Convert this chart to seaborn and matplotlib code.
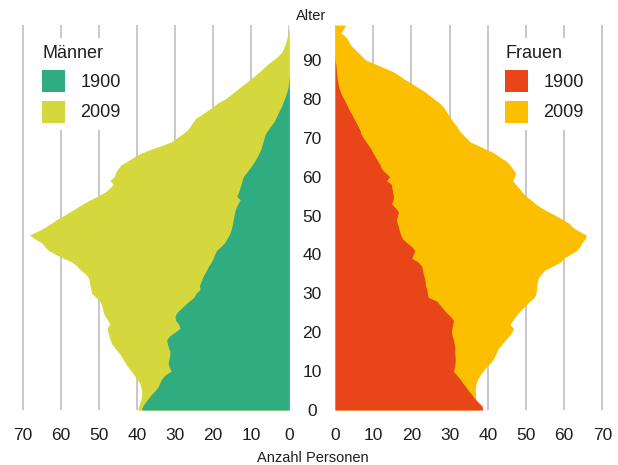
# %%
import numpy as np
import matplotlib.pyplot as plt
import seaborn as sns
from matplotlib.patches import Patch

# %% data: Anzahl Personen je Altersjahr (0..99)
alter = list(range(100))

maenner_1900 = [38.8, 38.5, 37.8, 37.0, 36.2, 35.2, 34.4, 34.0, 33.5, 32.6,
                31.0, 31.5, 31.8, 31.6, 31.4, 31.3, 31.7, 32.0, 32.2, 31.5,
                30.0, 28.7, 29.0, 29.8, 30.0, 29.6, 28.5, 27.4, 26.3, 25.0,
                24.5, 23.4, 23.6, 23.2, 22.8, 22.3, 21.7, 21.2, 20.5, 20.0,
                19.6, 19.1, 18.0, 17.0, 16.4, 15.8, 15.4, 15.1, 14.9, 14.7,
                14.5, 14.3, 14.0, 13.5, 12.9, 13.8, 13.3, 13.0, 12.7, 12.4,
                12.1, 11.3, 10.5, 9.8, 9.1, 8.5, 8.0, 7.5, 7.2, 6.9,
                6.6, 6.3, 5.6, 4.9, 4.1, 3.6, 3.1, 2.6, 2.1, 1.7,
                1.3, 0.9, 0.6, 0.3, 0.2, 0.1, 0.0, 0.0, 0.0, 0.0,
                0.0, 0.0, 0.0, 0.0, 0.0, 0.0, 0.0, 0.0, 0.0, 0.0]

maenner_2009 = [39.8, 39.5, 39.2, 38.9, 38.7, 38.8, 39.0, 39.3, 40.0, 40.8,
                41.5, 42.3, 43.0, 43.6, 44.2, 45.0, 45.8, 46.6, 47.0, 47.3,
                47.6, 47.9, 47.1, 47.6, 48.3, 48.8, 49.0, 49.3, 49.7, 50.8,
                51.9, 52.1, 52.3, 52.5, 52.7, 53.5, 54.8, 55.7, 57.0, 59.2,
                61.3, 63.2, 64.2, 65.0, 66.8, 68.2, 66.0, 64.1, 62.5, 61.0,
                59.2, 57.5, 55.8, 54.2, 52.3, 50.3, 48.4, 47.2, 46.2, 47.1,
                46.0, 45.6, 45.0, 44.2, 42.5, 40.8, 39.0, 36.5, 33.5, 30.9,
                29.5, 28.0, 26.8, 26.0, 25.3, 24.6, 23.0, 21.5, 20.0, 18.7,
                16.8, 15.5, 14.2, 12.9, 11.6, 10.3, 9.0, 7.8, 6.7, 5.6,
                4.2, 3.0, 2.0, 1.5, 1.1, 0.8, 0.5, 0.3, 0.1, 0.0]

frauen_1900 = [38.7, 38.5, 37.5, 36.5, 35.8, 34.9, 34.2, 33.4, 32.7, 31.8,
               31.0, 31.3, 31.4, 31.5, 31.4, 31.3, 31.4, 31.2, 31.0, 30.7,
               30.5, 30.6, 30.8, 31.0, 30.3, 29.2, 28.3, 27.5, 26.6, 24.4,
               24.2, 24.0, 23.7, 23.6, 23.4, 23.1, 22.9, 22.7, 21.8, 20.1,
               20.5, 20.9, 20.1, 18.8, 17.7, 17.2, 16.9, 16.6, 16.3, 16.1,
               16.4, 16.6, 15.8, 14.8, 15.2, 15.3, 15.1, 14.9, 14.8, 13.5,
               14.3, 13.2, 12.2, 11.8, 11.2, 10.6, 10.0, 9.5, 8.8, 8.1,
               7.4, 6.8, 6.5, 6.0, 5.5, 4.9, 4.4, 3.8, 3.3, 2.8,
               2.3, 1.7, 1.3, 1.0, 0.8, 0.6, 0.5, 0.4, 0.3, 0.2,
               0.0, 0.0, 0.0, 0.0, 0.0, 0.0, 0.0, 0.0, 0.0, 0.0]

frauen_2009 = [37.6, 37.4, 37.1, 36.8, 36.8, 36.7, 36.8, 37.0, 37.4, 38.0,
               38.7, 39.6, 40.6, 41.4, 41.9, 42.4, 42.8, 43.8, 44.6, 45.5,
               46.3, 46.7, 45.8, 46.5, 47.2, 48.0, 49.0, 50.0, 51.0, 52.2,
               52.6, 52.8, 52.8, 53.0, 53.3, 54.0, 55.0, 57.0, 59.0, 59.8,
               61.5, 63.2, 64.1, 64.6, 65.5, 65.8, 63.8, 62.2, 61.3, 59.6,
               57.8, 55.8, 54.0, 52.5, 51.3, 50.0, 49.0, 48.2, 47.3, 46.5,
               47.0, 47.3, 46.5, 45.8, 44.8, 43.2, 41.8, 39.7, 37.5, 35.3,
               34.3, 33.3, 32.4, 31.9, 31.0, 30.3, 29.6, 29.0, 28.3, 27.3,
               25.9, 24.6, 23.3, 21.6, 20.0, 18.3, 16.8, 15.2, 12.8, 10.5,
               8.0, 7.0, 6.0, 4.9, 4.0, 3.5, 2.8, 1.5, 2.2, 2.8]

x_ticks = [0, 10, 20, 30, 40, 50, 60, 70]
age_ticks = [0, 10, 20, 30, 40, 50, 60, 70, 80, 90]

farben = {"m1900": "#30ad80", "m2009": "#d4d83c",
          "f1900": "#e84618", "f2009": "#fbbf00"}

# %% style
sns.set_theme(style="white")
plt.rcParams["font.family"] = ["Liberation Sans", "DejaVu Sans"]
textfarbe = "#1e1e1e"

W, H = 618, 465
fig = plt.figure(figsize=(W / 100, H / 100), dpi=100)
axL = fig.add_axes([20.7 / W, 55 / H, (289.3 - 20.7) / W, 385 / H])
axR = fig.add_axes([335 / W, 55 / H, (604.3 - 335) / W, 385 / H])

# %% fills
axL.fill_betweenx(alter, 0, maenner_2009, color=farben["m2009"], lw=0, zorder=2)
axL.fill_betweenx(alter, 0, maenner_1900, color=farben["m1900"], lw=0, zorder=3)
axR.fill_betweenx(alter, 0, frauen_2009, color=farben["f2009"], lw=0, zorder=2)
axR.fill_betweenx(alter, 0, frauen_1900, color=farben["f1900"], lw=0, zorder=3)

axL.set_xlim(70.5, 0)
axR.set_xlim(0, 70.5)
for ax in (axL, axR):
    ax.set_ylim(0, 99)
    ax.set_xticks(x_ticks)
    ax.grid(axis="x", color="#c8c8c8", lw=1.4)
    ax.grid(axis="y", visible=False)
    ax.set_axisbelow(True)
    ax.tick_params(axis="x", length=0, pad=13, labelsize=12.5, labelcolor=textfarbe)
    sns.despine(ax=ax, left=True, bottom=True)

axL.set_yticks([])
axR.set_yticks(age_ticks)
axR.tick_params(axis="y", length=0, pad=16.5, labelsize=12.5, labelcolor=textfarbe)
for lbl in axR.get_yticklabels():
    lbl.set_ha("center")

# %% legends
def legende(ax, titel, c1, c2, x0):
    hd = [Patch(facecolor=c1, edgecolor="none", label="1900"),
          Patch(facecolor=c2, edgecolor="none", label="2009")]
    leg = ax.legend(handles=hd, title=titel, loc="upper left",
                    bbox_to_anchor=(x0 / W, 1 - 38 / H), bbox_transform=fig.transFigure,
                    fontsize=13, title_fontsize=13, alignment="left",
                    handlelength=1.27, handleheight=1.5, handletextpad=0.83,
                    labelspacing=0.45, borderpad=0.4, borderaxespad=0,
                    frameon=True, fancybox=False, framealpha=1,
                    facecolor="white", edgecolor="none")
    for t in leg.get_texts():
        t.set_color(textfarbe)
    leg.get_title().set_color(textfarbe)
    leg.set_zorder(5)

legende(axL, "Männer", farben["m1900"], farben["m2009"], 35)
legende(axR, "Frauen", farben["f1900"], farben["f2009"], 498)

fig.text(311 / W, 1 - 15.5 / H, "Alter", ha="center", va="center",
         fontsize=10.5, color=textfarbe)
fig.text(312.5 / W, 1 - 458 / H, "Anzahl Personen", ha="center", va="center",
         fontsize=10.5, color=textfarbe)

fig.savefig("out.png", dpi=100)
